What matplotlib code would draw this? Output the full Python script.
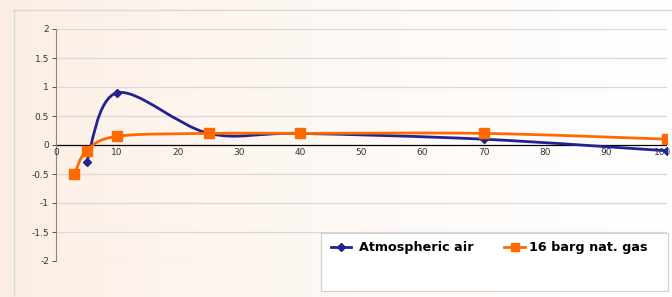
import numpy as np
import matplotlib.pyplot as plt
from matplotlib.path import Path
from matplotlib.patches import PathPatch, Rectangle
from matplotlib.lines import Line2D
from matplotlib.transforms import offset_copy

air_x = [5, 10, 25, 40, 70, 100]
air_y = [-0.3, 0.9, 0.2, 0.2, 0.1, -0.1]
gas_x = [3, 5, 10, 25, 40, 70, 100]
gas_y = [-0.5, -0.1, 0.15, 0.2, 0.2, 0.2, 0.1]
x_ticks = list(range(0, 101, 10))
y_ticks = [-2, -1.5, -1, -0.5, 0, 0.5, 1, 1.5, 2]
y_tick_labels = ["-2", "-1.5", "-1", "-0.5", "0", "0.5", "1", "1.5", "2"]

NAVY = "#23238f"
ORANGE = "#ff6a00"


def smooth_path(xs, ys):
    # excel style smoothed line: cubic bezier through the points
    p = np.column_stack([xs, ys]).astype(float)
    verts = [p[0]]
    codes = [Path.MOVETO]
    n = len(p)
    for i in range(n - 1):
        p0 = p[i - 1] if i > 0 else p[i]
        p1 = p[i]
        p2 = p[i + 1]
        p3 = p[i + 2] if i + 2 < n else p[i + 1]
        c1 = p1 + (p2 - p0) / 6.0
        c2 = p2 - (p3 - p1) / 6.0
        verts += [c1, c2, p2]
        codes += [Path.CURVE4] * 3
    return Path(verts, codes)


fig = plt.figure(figsize=(6.72, 2.97), dpi=100)

# background gradient peach -> white
bg = fig.add_axes([0, 0, 1, 1], zorder=-10)
grad = np.linspace(0, 1, 256).reshape(1, -1)
c0 = np.array([252, 236, 224]) / 255.0
c1 = np.array([255, 255, 255]) / 255.0
img = c0[None, None, :] * (1 - grad[..., None] ** 0.6) + c1[None, None, :] * grad[..., None] ** 0.6
bg.imshow(img, aspect="auto", extent=[0, 1, 0, 1])
bg.set_axis_off()

W, H = 672.0, 297.0
# chart frame lines
fig.add_artist(Line2D([14 / W, 1], [1 - 10 / H, 1 - 10 / H], color="#d8d8d8", lw=1))
fig.add_artist(Line2D([14 / W, 14 / W], [1 - 10 / H, 1 - 295 / H], color="#d8d8d8", lw=1))

ax = fig.add_axes([56 / W, 1 - 261 / H, (667 - 56) / W, (261 - 29) / H])
ax.set_xlim(0, 100)
ax.set_ylim(-2, 2)
ax.patch.set_alpha(0)
for s in ["top", "right", "bottom"]:
    ax.spines[s].set_visible(False)
ax.spines["left"].set_color("#888888")
ax.spines["left"].set_linewidth(0.8)

for yv in y_ticks:
    if yv != 0:
        ax.axhline(yv, color="#d9d9d9", lw=0.9, zorder=0)
ax.axhline(0, color="black", lw=0.9, zorder=1)

ax.set_yticks(y_ticks)
ax.set_yticklabels(y_tick_labels)
ax.tick_params(axis="y", labelsize=6.5, colors="#333333", length=3, width=0.6, pad=2)
ax.set_xticks([])
for xv in x_ticks:
    tr = ax.transData
    if xv == x_ticks[-1]:
        tr = offset_copy(ax.transData, fig=fig, x=-4, y=0, units="dots")
    ax.text(xv, -0.06, str(xv), ha="center", va="top", fontsize=6.5, color="#333333", transform=tr)

ax.add_patch(PathPatch(smooth_path(air_x, air_y), fill=False, color=NAVY, lw=2, zorder=3))
ax.plot(air_x, air_y, ls="none", marker="D", ms=4.5, color=NAVY, zorder=4)
ax.add_patch(PathPatch(smooth_path(gas_x, gas_y), fill=False, color=ORANGE, lw=2, zorder=5))
ax.plot(gas_x, gas_y, ls="none", marker="s", ms=7, color=ORANGE, zorder=6)

# legend box
fig.add_artist(Rectangle((321 / W, 1 - 291 / H), (668 - 321) / W, (291 - 233) / H,
                         facecolor="white", edgecolor="#d0d0d0", lw=0.8, zorder=5))
ly = 1 - 247 / H
fig.add_artist(Line2D([331 / W, 351 / W], [ly, ly], color=NAVY, lw=2, zorder=6))
fig.add_artist(Line2D([341 / W], [ly], color=NAVY, marker="D", ms=4, zorder=7))
fig.text(359 / W, ly, "Atmospheric air", fontsize=9.2, fontweight="bold", va="center", ha="left", zorder=7)
fig.add_artist(Line2D([504 / W, 525 / W], [ly, ly], color=ORANGE, lw=2, zorder=6))
fig.add_artist(Line2D([514.5 / W], [ly], color=ORANGE, marker="s", ms=6, zorder=7))
fig.text(529 / W, ly, "16 barg nat. gas", fontsize=9.2, fontweight="bold", va="center", ha="left", zorder=7)

fig.savefig("out.png", dpi=100)
